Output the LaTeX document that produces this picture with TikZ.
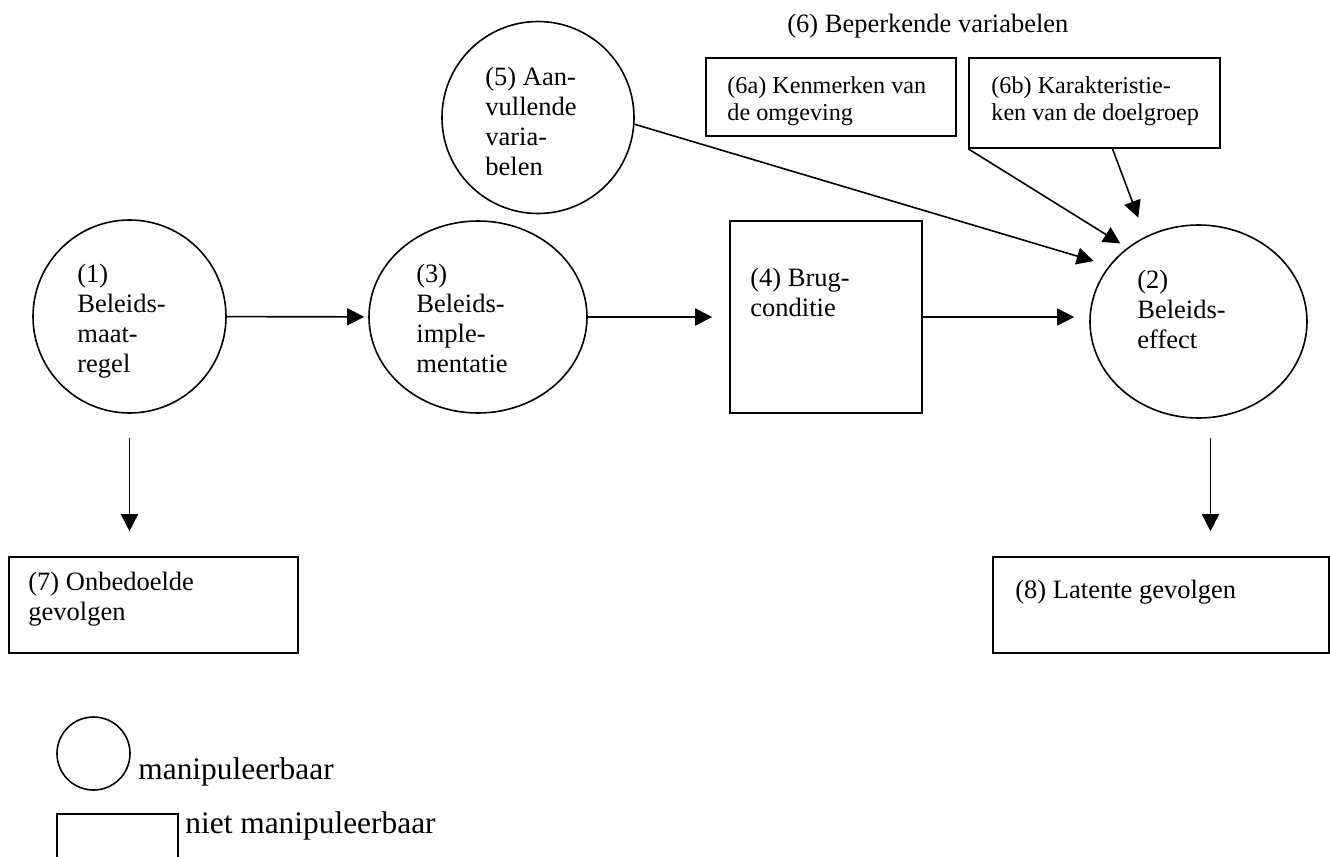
\documentclass[tikz,border=0pt]{standalone}
\usepackage{fontspec}
\setmainfont{Liberation Serif}
\usetikzlibrary{arrows.meta, shapes.geometric}

\begin{document}
\begin{tikzpicture}[x=0.5pt, y=-0.5pt,
    manip/.style={ellipse, draw, line width=0.8pt, inner sep=0pt},
    fixed/.style={rectangle, draw, line width=0.8pt, inner sep=0pt},
    txt/.style={anchor=base west, inner sep=0pt, align=left,
                font=\fontsize{13.25pt}{15pt}\selectfont},
    small/.style={txt, font=\fontsize{12.1pt}{13.5pt}\selectfont},
    legend/.style={txt, font=\fontsize{15.7pt}{18pt}\selectfont},
    arr/.style={-{Triangle[length=8.5pt, width=8.5pt]}, line width=0.8pt},
  ]
    \useasboundingbox (0,0) rectangle (1330,857);

    % Main chain
    \node[manip, minimum width=96.5pt, minimum height=96.5pt] (maatregel) at (129.5,316.5) {};
    \node[manip, minimum width=109pt, minimum height=96pt] (implement) at (478,317) {};
    \node[fixed, minimum size=96pt] (brug) at (826,317) {};
    \node[manip, minimum width=108.5pt, minimum height=96.5pt] (effect) at (1198.5,321.5) {};

    % (texts anchored at the baseline of their last line)
    \node[txt] (tmaat) at (77,372) {(1)\\Beleids-\\maat-\\regel};
    \node[txt] (timpl) at (416,372) {(3)\\Beleids-\\imple-\\mentatie};
    \node[txt] (tbrug) at (750,316) {(4) Brug-\\conditie};
    \node[txt] (teffect) at (1137,348) {(2)\\Beleids-\\effect};

    % Additional variables
    \node[manip, minimum size=96pt] (aanvul) at (538,117.5) {};
    \node[txt] (taanvul) at (485,175) {(5) Aan-\\vullende\\varia-\\belen};

    % Limiting variables
    \node[txt] (tbeperk) at (787,32) {(6) Beperkende variabelen};
    \node[fixed, minimum width=125pt, minimum height=39pt] (omgeving) at (831,97) {};
    \node[fixed, minimum width=125.5pt, minimum height=45pt] (doelgroep) at (1094.5,103) {};
    \node[small] (tomg) at (727,120) {(6a) Kenmerken van\\de omgeving};
    \node[small] (tdoel) at (991,120) {(6b) Karakteristie-\\ken van de doelgroep};

    % Side effects
    \node[fixed, minimum width=144.5pt, minimum height=48pt] (onbedoeld) at (153.5,605) {};
    \node[fixed, minimum width=168pt, minimum height=48pt] (latent) at (1161,605) {};
    \node[txt] (tonbed) at (28,620) {(7) Onbedoelde\\gevolgen};
    \node[txt] (tlatent) at (1015,598) {(8) Latente gevolgen};

    % Arrows
    \draw[arr, shorten >=2pt] (maatregel) -- (implement);
    \draw[arr, shorten >=8.5pt] (implement) -- (brug);
    \draw[arr, shorten >=7.5pt] (brug.east) -- (effect.west |- brug.east);
    \draw[arr, shorten <=12pt, shorten >=12.5pt] (maatregel.south) -- (maatregel.south |- onbedoeld.north);
    \draw[arr, shorten <=9.5pt, shorten >=12.5pt] ([xshift=6pt]effect.south) -- ([xshift=6pt]effect.south |- latent.north);
    \draw[arr, shorten >=8pt] (aanvul.-4) -- (effect.148);
    \draw[arr, shorten >=4pt] (doelgroep.south west) -- (effect.134);
    \draw[arr, shorten >=10pt] ([xshift=9pt]doelgroep.south) -- (effect.122);

    % Legend
    \node[manip, minimum size=36.5pt] (lmanip) at (93.5,753.5) {};
    \node[fixed, minimum width=60.5pt, minimum height=33pt] (lfixed) at (117.5,847) {};
    \node[legend] (tlmanip) at (138,779) {manipuleerbaar};
    \node[legend] (tlfixed) at (185,833) {niet manipuleerbaar};
  \end{tikzpicture}
\end{document}
